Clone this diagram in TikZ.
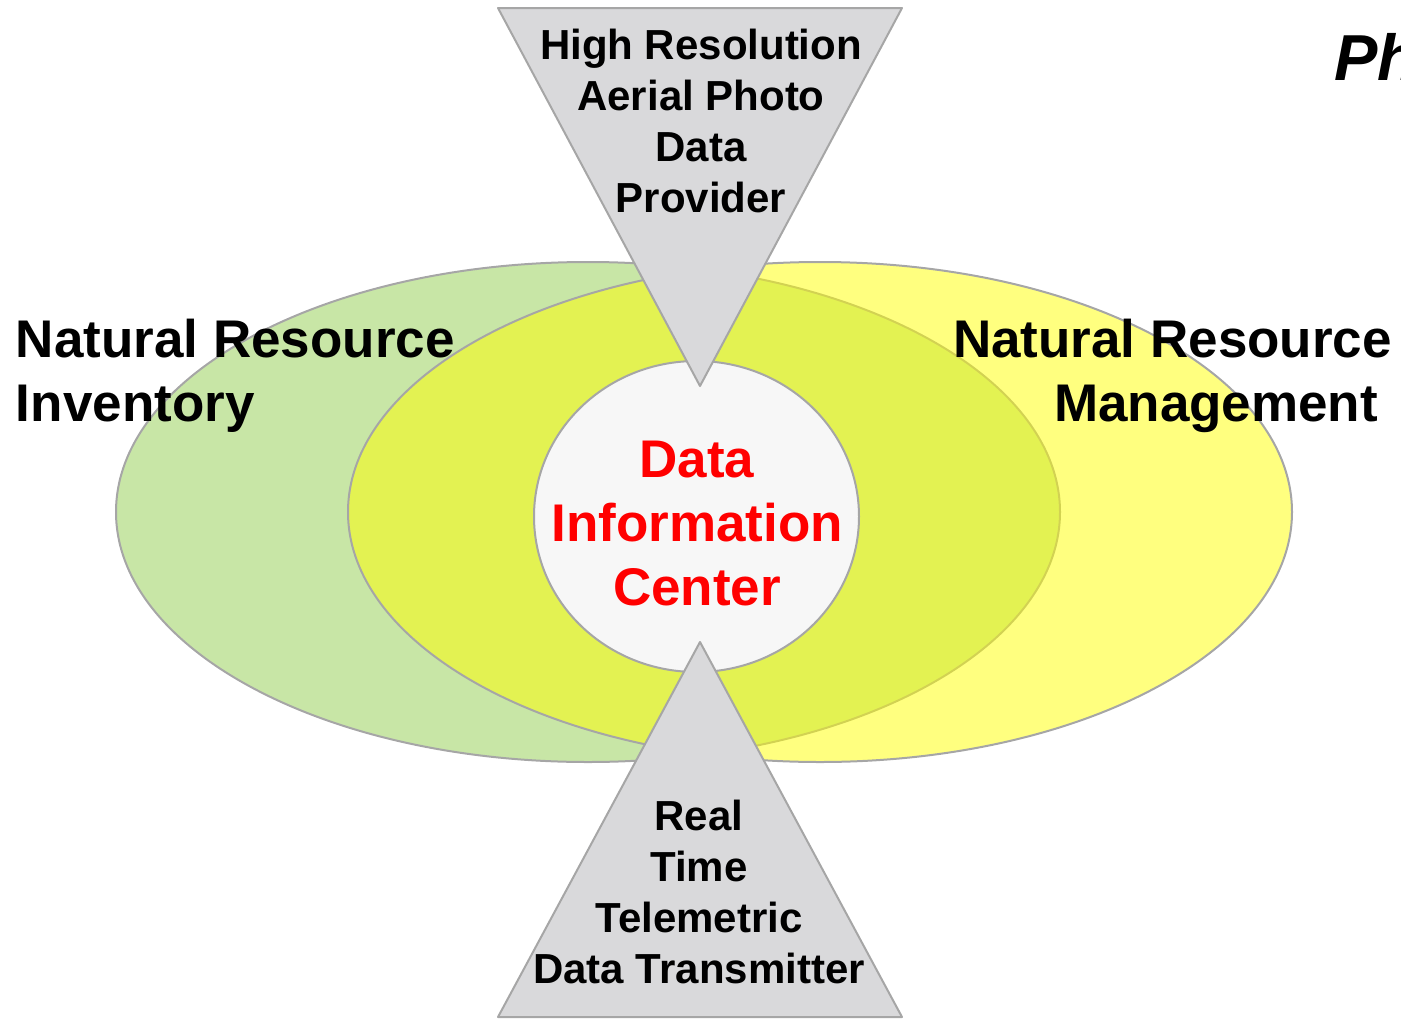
\documentclass[tikz,border=0pt]{standalone}
\usepackage{fontspec}
\setmainfont{Liberation Sans}
\usetikzlibrary{positioning}

\definecolor{edgegray}{HTML}{A6A6A6}
\definecolor{inventorygreen}{HTML}{C8E6A6}
\definecolor{managementyellow}{HTML}{FFFF00}
\definecolor{centerwhite}{HTML}{F7F7F7}
\definecolor{wedgegray}{HTML}{D9D9DB}

\tikzset{every picture/.style={line width=2pt}}
\tikzset{
  wedge/.style={draw=edgegray, fill=wedgegray, line join=round},
  wedgetext/.style={inner sep=0pt, align=center, font=\bfseries\fontsize{42}{51}\selectfont},
  areatext/.style={inner sep=0pt, font=\bfseries\fontsize{53}{64}\selectfont}
}

\begin{document}
\begin{tikzpicture}[x=1pt,y=1pt,yscale=-1,xscale=1]
    \useasboundingbox (0,0) rectangle (1401,1018);
    %Ellipse [inventory]
    \draw [draw=edgegray, fill=inventorygreen] (588,512) ellipse (472 and 250);
    %Ellipse [management]
    \draw [draw=edgegray, fill=managementyellow, fill opacity=0.5] (820,512) ellipse (472 and 250);
    %Ellipse [center]
    \draw [draw=edgegray, fill=centerwhite] (696.5,516.5) ellipse (162.5 and 155.5);
    %Triangle [top]
    \draw [wedge] (498,8) -- (902,8) -- (700,386) -- cycle;
    %Triangle [bottom]
    \draw [wedge] (700,642) -- (902,1017) -- (498,1017) -- cycle;
    % Text Node
    \node (center) [areatext, align=center, text=red, anchor=base] at (697,605) {Data\\Information\\Center};
    % Text Node
    \node (provider) [wedgetext, anchor=base] at (701,212) {High Resolution\\Aerial Photo\\Data\\Provider};
    % Text Node
    \node (transmitter) [wedgetext, anchor=base] at (699,983) {Real\\Time\\Telemetric\\Data Transmitter};
    % Text Node
    \node (inventory) [areatext, align=left, anchor=base west] at (15,421) {Natural Resource\\Inventory};
    % Text Node
    \node (management) [areatext, align=right, anchor=base east] at (1393,421) {Natural Resource\\Management\kern14pt};
    % Text Node
    \node (title) [inner sep=0pt, anchor=base west, font=\bfseries\itshape\fontsize{65}{78}\selectfont] at (1333,80) {Ph};
\end{tikzpicture}
\end{document}
